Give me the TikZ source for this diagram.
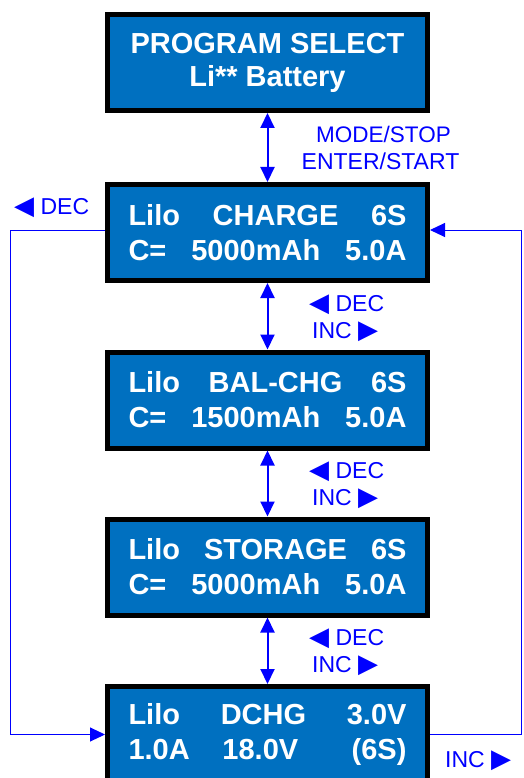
\documentclass[tikz,border=0pt]{standalone}
\usepackage{fontspec}
\setmainfont{Liberation Sans}
\newfontfamily\symfont{DejaVu Sans}
\usetikzlibrary{arrows.meta}
\definecolor{lcdblue}{RGB}{0,112,192}
\definecolor{keyblue}{RGB}{0,0,255}
\newcommand\lcdrow[3]{\makebox[278pt]{#1\hfill#2\hfill#3}}
\newcommand\decsym{{\fontsize{26}{27}\symfont\char"25C0}}
\newcommand\incsym{{\fontsize{26}{27}\symfont\char"25B6}}
\begin{document}
\begin{tikzpicture}[x=1pt,y=-1pt,
  lcd/.style={draw=black, line width=5pt, fill=lcdblue, minimum width=320pt,
    minimum height=96pt, inner sep=0pt, text=white,
    font=\fontsize{29}{35}\selectfont\bfseries, align=center},
  key/.style={text=keyblue, font=\fontsize{23}{27}\selectfont, inner sep=0pt},
  updown/.style={keyblue, line width=2pt,
    {Triangle[width=14pt,length=15pt]}-{Triangle[width=14pt,length=15pt]}},
  loopline/.style={keyblue, line width=1pt, -{Triangle[width=14pt,length=15pt]}}]
\useasboundingbox (0,0) rectangle (523,778);
\clip (0,0) rectangle (523,778);

\node[lcd, font=\fontsize{29}{33}\selectfont\bfseries] (sel) at (267.5,62.5) {PROGRAM SELECT\\Li** Battery};
\node[lcd] (chg) at (267.5,232.5) {\lcdrow{Lilo}{CHARGE}{6S}\\\lcdrow{C=}{5000mAh}{5.0A}};
\node[lcd] (bal) at (267.5,400) {\lcdrow{Lilo}{BAL-CHG}{6S}\\\lcdrow{C=}{1500mAh}{5.0A}};
\node[lcd] (sto) at (267.5,567) {\lcdrow{Lilo}{STORAGE}{6S}\\\lcdrow{C=}{5000mAh}{5.0A}};
\node[lcd] (dch) at (267.5,734.5) {\lcdrow{Lilo}{DCHG}{3.0V}\\\makebox[278pt]{\makebox[94pt][l]{1.0A}18.0V\hfill(6S)}};

\draw[updown] (sel.south) -- (chg.north);
\draw[updown] (chg.south) -- (bal.north);
\draw[updown] (bal.south) -- (sto.north);
\draw[updown] (sto.south) -- (dch.north);

\node[key, anchor=base, font=\fontsize{22.5}{27}\selectfont] (mode) at (383.5,143) {MODE/STOP};
\node[key, anchor=base] (enter) at (380.5,170) {ENTER/START};

\node[key, anchor=base west] (dec1) at (309,311) {\decsym\ DEC};
\node[key, anchor=base west] (inc1) at (312,338) {INC \incsym};
\node[key, anchor=base west] (dec2) at (309,478) {\decsym\ DEC};
\node[key, anchor=base west] (inc2) at (312,505) {INC \incsym};
\node[key, anchor=base west] (dec3) at (309,645) {\decsym\ DEC};
\node[key, anchor=base west] (inc3) at (312,672) {INC \incsym};

\node[key, anchor=base west] (decl) at (14,214) {\decsym\ DEC};
\node[key, anchor=base west] (incr) at (445,767) {INC \incsym};

\draw[loopline] ([yshift=2.5pt]chg.west) -- ++(-95,0) |- (dch.west);
\draw[loopline] (dch.east) -- ++(91.5,0) |- ([yshift=2.5pt]chg.east);
\end{tikzpicture}
\end{document}
